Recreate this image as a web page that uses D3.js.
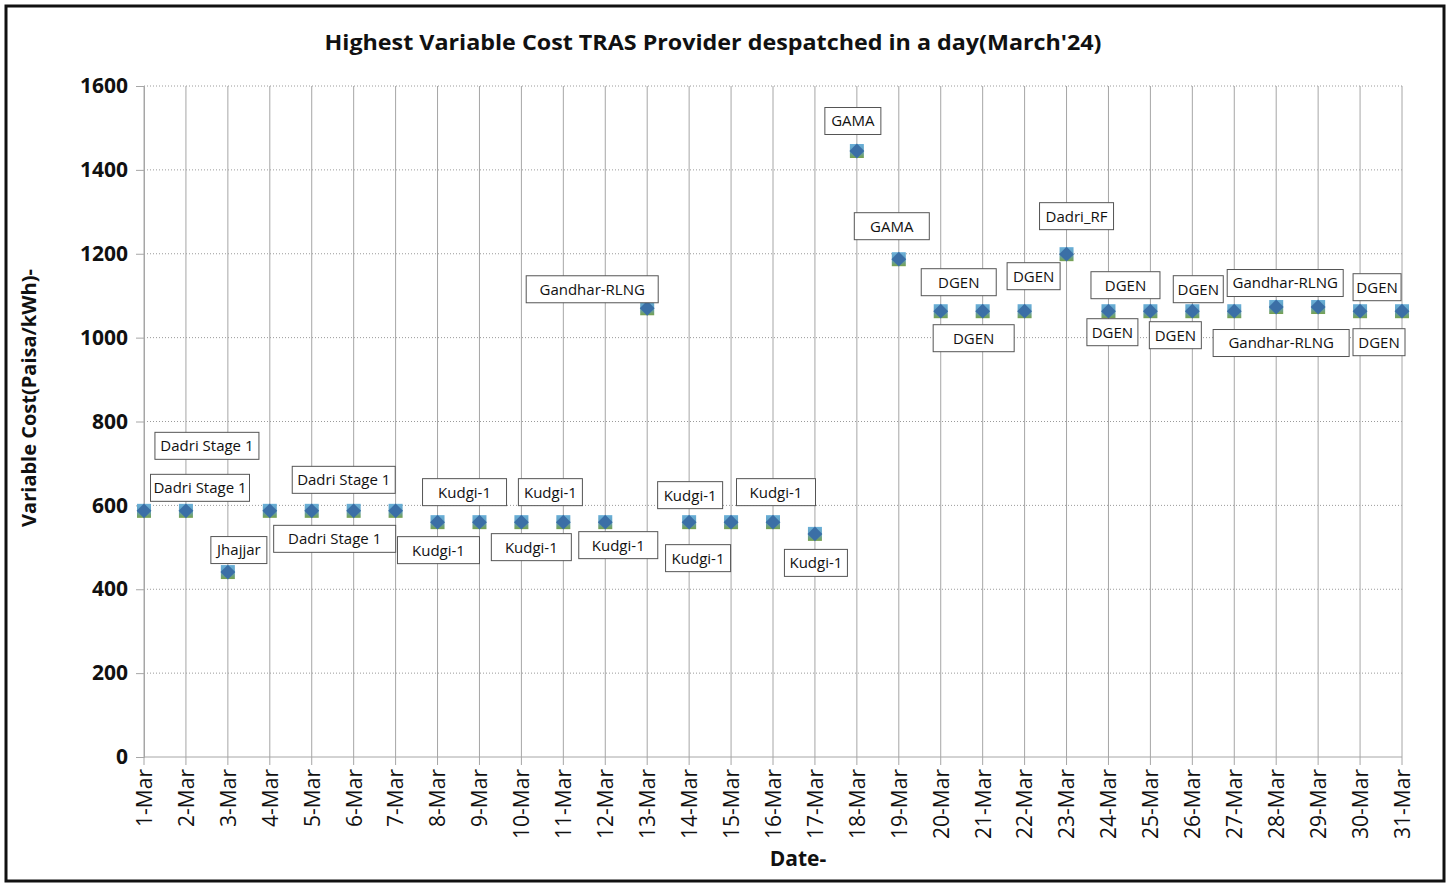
<!DOCTYPE html>
<html>
<head>
<meta charset="utf-8">
<script src="https://cdn.jsdelivr.net/npm/d3@7"></script>
<style>
  html, body { margin: 0; padding: 0; background: #fff; }
  svg { display: block; font-family: "Open Sans", "Noto Sans", sans-serif; }
</style>
</head>
<body>
<svg width="1451" height="885"></svg>
<script>
const dates = d3.range(1, 32).map(d => d + "-Mar");
const values = [587, 587, 441, 587, 587, 587, 587, 560, 560, 560, 560, 560, 1070, 560, 560, 560,
  532, 1445, 1187, 1063, 1063, 1063, 1199, 1063, 1063, 1063, 1063, 1073, 1073, 1063, 1063];
const providers = ["Dadri Stage 1", "Dadri Stage 1", "Jhajjar", null, "Dadri Stage 1", "Dadri Stage 1", null,
  "Kudgi-1", "Kudgi-1", "Kudgi-1", "Kudgi-1", "Kudgi-1", "Gandhar-RLNG", "Kudgi-1", "Kudgi-1", "Kudgi-1",
  "Kudgi-1", "GAMA", "GAMA", "DGEN", "DGEN", "DGEN", "Dadri_RF", "DGEN", "DGEN", "DGEN", "DGEN",
  "Gandhar-RLNG", "Gandhar-RLNG", "DGEN", "DGEN"];
const yTicks = d3.range(0, 1601, 200);

// label box placement relative to its point: [dx, dy, box width]
const labelLayout = [[56, -23, 99], [21, -65, 104], [11, -22, 56], null, [32, -31, 103], [-19, 28, 122], null,
  [27, -30, 84], [-41, 28, 82], [29, -30, 64], [-32, 25, 80], [13, 23, 79], [-55, -19, 132], [1, -27, 65],
  [-33, 36, 65], [3, -30, 79], [1, 29, 63], [-4, -30, 56], [-7, -33, 75], [18, -29, 75], [-9, 27, 81],
  [9, -35, 53], [10, -38, 74], [17, -26, 69], [-38, 21, 51], [-17, 24, 52], [-36, -22, 50], [9, -24, 116],
  [-37, 36, 136], [17, -24, 48], [-23, 31, 52]];

const svg = d3.select("svg");
const plotL = 144, plotR = 1402, plotT = 86, plotB = 757;

const x = d3.scalePoint().domain(dates).range([plotL, plotR]);
const y = d3.scaleLinear().domain([0, 1600]).range([plotB, plotT]);

// outer frame
svg.append("rect").attr("x", 6).attr("y", 6).attr("width", 1438).attr("height", 875)
  .attr("fill", "#fff").attr("stroke", "#111").attr("stroke-width", 3);

const defs = svg.append("defs");
const grad = defs.append("linearGradient").attr("id", "sq").attr("x1", 0).attr("y1", 0).attr("x2", 0).attr("y2", 1);
grad.append("stop").attr("offset", "0%").attr("stop-color", "#6bb0d8");
grad.append("stop").attr("offset", "50%").attr("stop-color", "#5f9fc0");
grad.append("stop").attr("offset", "100%").attr("stop-color", "#78a24c");

// horizontal dotted grid
svg.append("g").selectAll("line").data(yTicks.filter(d => d > 0)).join("line")
  .attr("x1", plotL).attr("x2", plotR).attr("y1", d => y(d)).attr("y2", d => y(d))
  .attr("stroke", "#9a9a9a").attr("stroke-width", 1).attr("stroke-dasharray", "1,2");

// vertical grid, extending down as tick marks
svg.append("g").selectAll("line").data(dates).join("line")
  .attr("x1", d => x(d)).attr("x2", d => x(d)).attr("y1", plotT).attr("y2", plotB + 8)
  .attr("stroke", "#a6a6a6").attr("stroke-width", 1);

// y axis
const yAxis = svg.append("g").attr("transform", `translate(${plotL},0)`)
  .call(d3.axisLeft(y).tickValues(yTicks).tickFormat(d3.format("d")).tickSize(8).tickPadding(8));
yAxis.select(".domain").attr("stroke", "#a6a6a6");
yAxis.selectAll(".tick line").attr("stroke", "#a6a6a6");
yAxis.selectAll(".tick text").attr("font-size", 21).attr("font-weight", "bold")
  .attr("font-family", "'Open Sans', sans-serif").attr("fill", "#111");

// x baseline
svg.append("line").attr("x1", plotL).attr("x2", plotR).attr("y1", plotB).attr("y2", plotB)
  .attr("stroke", "#a6a6a6");

// x axis labels
const xAxis = svg.append("g").attr("transform", `translate(0,${plotB})`)
  .call(d3.axisBottom(x).tickSize(0).tickPadding(0));
xAxis.select(".domain").remove();
xAxis.selectAll(".tick text")
  .attr("font-size", 21).attr("font-family", "'Open Sans', sans-serif").attr("fill", "#111")
  .attr("transform", "rotate(-90)").attr("text-anchor", "end")
  .attr("x", -12).attr("y", 0).attr("dy", "0.35em");

// markers
const pts = svg.append("g").selectAll("g").data(dates).join("g")
  .attr("transform", (d, i) => `translate(${x(d)},${y(values[i])})`);
pts.append("rect").attr("x", -7).attr("y", -7).attr("width", 14).attr("height", 14)
  .attr("fill", "url(#sq)");
pts.append("path").attr("d", d3.symbol(d3.symbolSquare, 110)())
  .attr("transform", "rotate(45)").attr("fill", "#3b6fa6");

// data labels
const labels = svg.append("g").selectAll("g")
  .data(dates.map((d, i) => ({ d, i })).filter(o => providers[o.i]))
  .join("g")
  .attr("transform", o => `translate(${x(o.d) + labelLayout[o.i][0]},${y(values[o.i]) + labelLayout[o.i][1]})`);
labels.append("rect")
  .attr("x", o => -labelLayout[o.i][2] / 2).attr("y", -13.5)
  .attr("width", o => labelLayout[o.i][2]).attr("height", 27)
  .attr("fill", "#fff").attr("stroke", "#555").attr("stroke-width", 1);
labels.append("text").text(o => providers[o.i])
  .attr("text-anchor", "middle").attr("dy", "0.36em")
  .attr("font-size", 15).attr("fill", "#111");

// titles
svg.append("text").attr("x", 713).attr("y", 50).attr("text-anchor", "middle")
  .attr("font-size", 22).attr("font-weight", "bold").attr("fill", "#111")
  .attr("textLength", 777).attr("lengthAdjust", "spacingAndGlyphs")
  .text("Highest Variable Cost TRAS Provider despatched in a day(March'24)");

svg.append("text").attr("transform", "translate(36,398) rotate(-90)").attr("text-anchor", "middle")
  .attr("font-size", 20).attr("font-weight", "bold").attr("fill", "#111")
  .text("Variable Cost(Paisa/kWh)-");

svg.append("text").attr("x", 798).attr("y", 866).attr("text-anchor", "middle")
  .attr("font-size", 21).attr("font-weight", "bold").attr("fill", "#111")
  .text("Date-");
</script>
</body>
</html>
